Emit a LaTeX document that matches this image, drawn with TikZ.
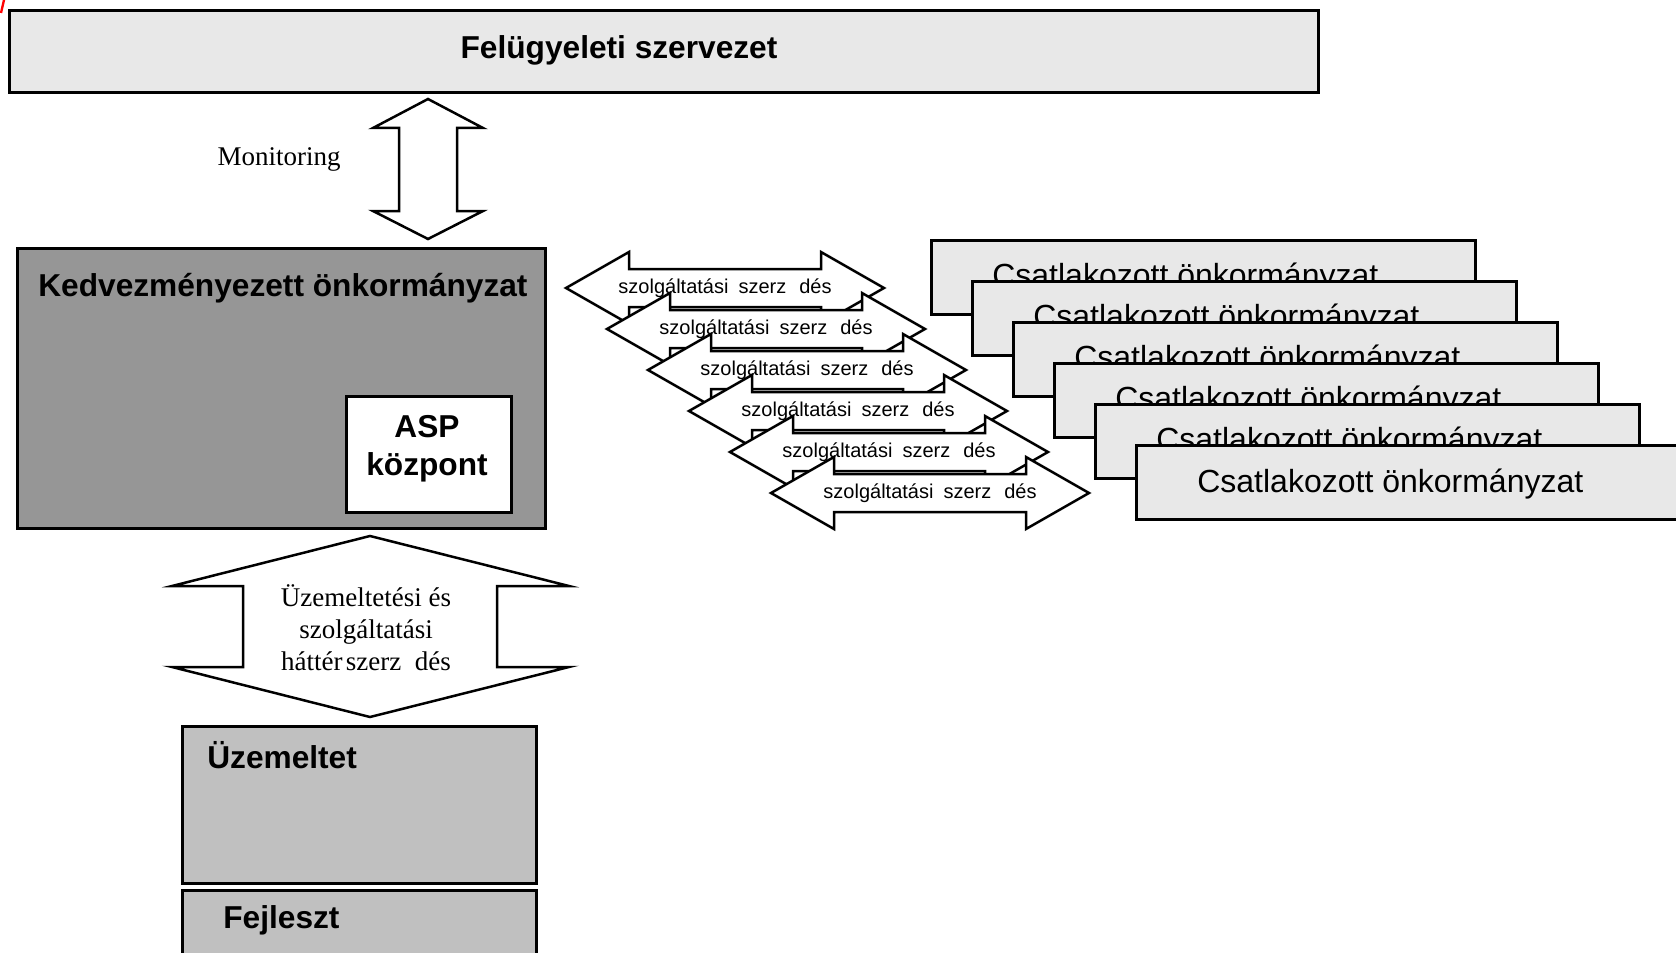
\documentclass[tikz,border=0pt]{standalone}
\usepackage{fontspec}
\setmainfont{Liberation Serif}
\setsansfont{Liberation Sans}
\usepackage{tikz}
\usetikzlibrary{positioning}
\definecolor{lightfill}{HTML}{E8E8E8}
\definecolor{darkfill}{HTML}{969696}
\definecolor{midfill}{HTML}{C0C0C0}
\tikzset{
    block/.style = {
        draw,
        shape=rectangle,
        anchor=north west,
        inner sep=0pt,
        line width=1.8pt
    },
    member/.style = {
        block,
        fill=lightfill,
        minimum width=544*0.6pt,
        minimum height=74*0.6pt
    },
    bigarrow/.style = {
        draw,
        fill=white,
        line width=1.5pt,
        line join=miter
    },
    headline/.style = {
        font=\sffamily\bfseries\fontsize{19}{22.8}\selectfont,
        inner sep=0pt
    },
    membertext/.style = {
        font=\sffamily\fontsize{19.2}{23}\selectfont,
        inner sep=0pt,
        anchor=west
    },
    dealtext/.style = {
        font=\sffamily\fontsize{12}{14}\selectfont,
        inner sep=0pt
    },
    serifnote/.style = {
        font=\rmfamily\fontsize{16.2}{19.2}\selectfont,
        inner sep=0pt,
        align=center
    },
}

\begin{document}
\begin{tikzpicture}[x=0.6pt,y=-0.6pt]
                \useasboundingbox (0,0) rectangle (1676,952);
                \clip (0,0) rectangle (1676,952);
                \path[draw, red, line width=1.4pt] (4,0) -- (1,13);

                % supervisor
                \node[block, fill=lightfill, minimum width=1309*0.6pt, minimum height=82*0.6pt] (felugy) at (8,9) {};
                \node[headline] (felugytext) at (619,50) {Felügyeleti szervezet};

                % monitoring arrow
                \path[bigarrow] (428,99) -- (483,128) -- (457,128) -- (457,211) -- (483,211) -- (428,239)
                    -- (373,211) -- (399,211) -- (399,128) -- (373,128) -- cycle;
                \node[serifnote] (montext) at (279,159) {Monitoring};

                % beneficiary
                \node[block, fill=darkfill, minimum width=528*0.6pt, minimum height=280*0.6pt] (kedv) at (16,247) {};
                \node[headline, anchor=west] (kedvtext) at (38,288) {Kedvezményezett önkormányzat};
                \node[block, fill=white, minimum width=165*0.6pt, minimum height=116*0.6pt] (asp) at (345,395) {};
                \node[headline, align=center] (asptext) at (427,449) {ASP\\központ};

                % operating contract
                \path[bigarrow] (370,536) -- (569,586) -- (497,586) -- (497,667) -- (569,667) -- (370,717)
                    -- (172,667) -- (243,667) -- (243,586) -- (172,586) -- cycle;
                \node[serifnote] (uzemtext) at (366,628) {Üzemeltetési és\\szolgáltatási\\háttér\hspace{0.12em}szerz\hspace{0.5em}dés};

                \node[block, fill=midfill, minimum width=354*0.6pt, minimum height=157*0.6pt] (uzem) at (181,725) {};
                \node[headline, anchor=west] (uzemlabel) at (207,755) {Üzemeltet};
                \node[block, fill=midfill, minimum width=354*0.6pt, minimum height=90*0.6pt] (fejl) at (181,889) {};
                \node[headline, anchor=west] (fejllabel) at (223,920) {Fejleszt};

                % service contracts
                \path[bigarrow] (566,288) -- ++(63,-36) -- ++(0,17) -- ++(192,0) -- ++(0,-17) -- ++(63,36)
                    -- ++(-63,36) -- ++(0,-17) -- ++(-192,0) -- ++(0,17) -- cycle;
                \node[dealtext] (deal1) at (725,288) {szolgáltatási\hspace{0.5em}szerz\hspace{0.65em}dés};
                \path[bigarrow] (607,329) -- ++(63,-36) -- ++(0,17) -- ++(192,0) -- ++(0,-17) -- ++(63,36)
                    -- ++(-63,36) -- ++(0,-17) -- ++(-192,0) -- ++(0,17) -- cycle;
                \node[dealtext] (deal2) at (766,329) {szolgáltatási\hspace{0.5em}szerz\hspace{0.65em}dés};
                \path[bigarrow] (648,370) -- ++(63,-36) -- ++(0,17) -- ++(192,0) -- ++(0,-17) -- ++(63,36)
                    -- ++(-63,36) -- ++(0,-17) -- ++(-192,0) -- ++(0,17) -- cycle;
                \node[dealtext] (deal3) at (807,370) {szolgáltatási\hspace{0.5em}szerz\hspace{0.65em}dés};
                \path[bigarrow] (689,411) -- ++(63,-36) -- ++(0,17) -- ++(192,0) -- ++(0,-17) -- ++(63,36)
                    -- ++(-63,36) -- ++(0,-17) -- ++(-192,0) -- ++(0,17) -- cycle;
                \node[dealtext] (deal4) at (848,411) {szolgáltatási\hspace{0.5em}szerz\hspace{0.65em}dés};
                \path[bigarrow] (730,452) -- ++(63,-36) -- ++(0,17) -- ++(192,0) -- ++(0,-17) -- ++(63,36)
                    -- ++(-63,36) -- ++(0,-17) -- ++(-192,0) -- ++(0,17) -- cycle;
                \node[dealtext] (deal5) at (889,452) {szolgáltatási\hspace{0.5em}szerz\hspace{0.65em}dés};
                \path[bigarrow] (771,493) -- ++(63,-36) -- ++(0,17) -- ++(192,0) -- ++(0,-17) -- ++(63,36)
                    -- ++(-63,36) -- ++(0,-17) -- ++(-192,0) -- ++(0,17) -- cycle;
                \node[dealtext] (deal6) at (930,493) {szolgáltatási\hspace{0.5em}szerz\hspace{0.65em}dés};

                % joined municipalities
                \node[member] (csat1) at (930,239) {};
                \node[membertext] (csattext1) at (992,278) {Csatlakozott önkormányzat};
                \node[member] (csat2) at (971,280) {};
                \node[membertext] (csattext2) at (1033,319) {Csatlakozott önkormányzat};
                \node[member] (csat3) at (1012,321) {};
                \node[membertext] (csattext3) at (1074,360) {Csatlakozott önkormányzat};
                \node[member] (csat4) at (1053,362) {};
                \node[membertext] (csattext4) at (1115,401) {Csatlakozott önkormányzat};
                \node[member] (csat5) at (1094,403) {};
                \node[membertext] (csattext5) at (1156,442) {Csatlakozott önkormányzat};
                \node[member] (csat6) at (1135,444) {};
                \node[membertext] (csattext6) at (1197,484) {Csatlakozott önkormányzat};
\end{tikzpicture}
\end{document}
